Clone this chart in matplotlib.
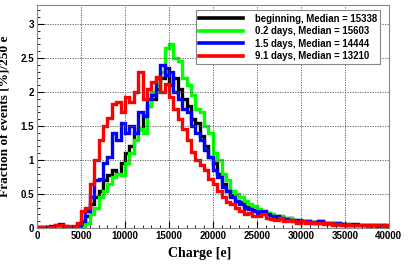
import numpy as np
import matplotlib
matplotlib.use("Agg")
import matplotlib.pyplot as plt
from matplotlib.ticker import MultipleLocator
from matplotlib.lines import Line2D

bin_edges = np.arange(0, 40001, 500)

labels = ["beginning, Median = 15338", "0.2 days, Median = 15603",
          "1.5 days, Median = 14444", "9.1 days, Median = 13210"]
colors = ["#000000", "#00ff00", "#0000ff", "#ff0000"]

black = [0.01,0.01,0.01,0.02,0.03,0.03,0.02,0.02,0.02,0.03,
         0.06,0.18,0.35,0.45,0.55,0.70,0.78,0.85,0.80,0.95,
         1.10,1.20,1.40,1.45,1.65,1.80,1.90,2.05,2.20,2.35,
         2.10,2.20,2.05,1.90,1.80,1.60,1.55,1.35,1.20,1.05,
         0.95,0.80,0.65,0.55,0.48,0.40,0.38,0.32,0.30,0.27,
         0.24,0.22,0.22,0.18,0.16,0.17,0.14,0.15,0.12,0.11,
         0.10,0.11,0.09,0.08,0.10,0.07,0.08,0.06,0.07,0.06,
         0.05,0.05,0.06,0.04,0.05,0.04,0.05,0.04,0.03,0.04]

green = [0.00,0.01,0.01,0.01,0.02,0.02,0.01,0.01,0.01,0.02,
         0.03,0.08,0.20,0.30,0.45,0.55,0.65,0.75,0.80,0.78,
         0.95,1.10,1.30,1.45,1.40,1.80,2.00,2.10,2.30,2.65,
         2.70,2.50,2.45,2.20,2.10,1.95,1.75,1.70,1.50,1.40,
         1.10,1.00,0.80,0.70,0.55,0.50,0.45,0.40,0.35,0.32,
         0.28,0.25,0.22,0.20,0.18,0.17,0.15,0.14,0.12,0.12,
         0.10,0.10,0.09,0.08,0.09,0.08,0.07,0.07,0.06,0.06,
         0.06,0.05,0.05,0.05,0.04,0.04,0.05,0.04,0.04,0.03]

blue = [0.01,0.01,0.02,0.03,0.05,0.06,0.03,0.02,0.02,0.04,
        0.10,0.25,0.45,0.70,0.72,0.95,1.05,1.40,1.30,1.55,
        1.40,1.50,1.40,1.70,1.65,1.90,1.95,2.20,2.40,2.25,
        2.30,2.00,1.90,1.75,1.70,1.50,1.40,1.30,1.15,1.05,
        0.85,0.75,0.60,0.55,0.45,0.40,0.35,0.30,0.28,0.25,
        0.22,0.25,0.20,0.18,0.17,0.15,0.13,0.12,0.10,0.12,
        0.10,0.11,0.08,0.09,0.10,0.07,0.08,0.06,0.07,0.06,
        0.05,0.06,0.05,0.04,0.05,0.04,0.05,0.03,0.04,0.03]

red = [0.01,0.01,0.01,0.02,0.04,0.05,0.03,0.02,0.03,0.08,
       0.25,0.30,0.65,1.00,1.30,1.50,1.62,1.82,1.85,1.70,
       1.92,1.85,2.00,2.30,1.90,2.05,2.15,2.22,2.00,2.12,
       1.92,1.75,1.60,1.45,1.30,1.12,1.00,0.93,0.85,0.72,
       0.64,0.55,0.45,0.38,0.35,0.30,0.25,0.20,0.22,0.18,
       0.17,0.20,0.15,0.13,0.12,0.14,0.10,0.12,0.10,0.08,
       0.10,0.08,0.09,0.07,0.08,0.06,0.07,0.05,0.06,0.05,
       0.06,0.04,0.05,0.04,0.05,0.03,0.04,0.04,0.03,0.04]

series = [black, green, blue, red]

fig = plt.figure(figsize=(4.09, 2.65), dpi=100)
ax = fig.add_axes([0.0905, 0.1396, 0.860, 0.8415])

for vals, col in zip(series, colors):
    ax.stairs(vals, bin_edges, color=col, linewidth=2.4)

ax.set_xlim(0, 40000)
ax.set_ylim(0, 3.28)
ax.xaxis.set_major_locator(MultipleLocator(5000))
ax.xaxis.set_minor_locator(MultipleLocator(1000))
ax.yaxis.set_major_locator(MultipleLocator(0.5))
ax.yaxis.set_minor_locator(MultipleLocator(0.1))
ax.yaxis.set_major_formatter(matplotlib.ticker.FuncFormatter(lambda v, p: f"{v:g}"))
ax.tick_params(which="both", direction="in", top=False, right=False,
               labelsize=7, pad=2)
ax.tick_params(which="major", length=5, width=0.8)
ax.tick_params(which="minor", length=2.5, width=0.6)
for lab in ax.get_xticklabels() + ax.get_yticklabels():
    lab.set_fontweight("bold")
    lab.set_family("Liberation Sans")
ax.grid(True, which="major", linestyle=(0, (1.5, 1.5)), color="#555555", linewidth=0.6)
for s in ax.spines.values():
    s.set_color("#888888")
    s.set_linewidth(0.8)

ax.set_xlabel("Charge [e]", family="Liberation Serif", fontweight="bold", fontsize=10)
ax.xaxis.set_label_coords(0.463, -0.085)
ax.set_ylabel("Fraction of events [%]/250 e", family="Liberation Serif", fontweight="bold",
              fontsize=9.6)
ax.yaxis.set_label_coords(-0.075, 0.5)

handles = [Line2D([], [], color=c, linewidth=2.6) for c in colors]
leg = ax.legend(handles, labels, loc="upper right", bbox_to_anchor=(0.99, 0.997),
                prop={"family": "Liberation Sans", "weight": "bold", "size": 6.9},
                frameon=True, fancybox=False, edgecolor="#888888", framealpha=1,
                handlelength=4.6, handletextpad=1.2, borderpad=0.35, labelspacing=0.25)
leg.get_frame().set_linewidth(0.8)

fig.savefig("out.png", dpi=100)
